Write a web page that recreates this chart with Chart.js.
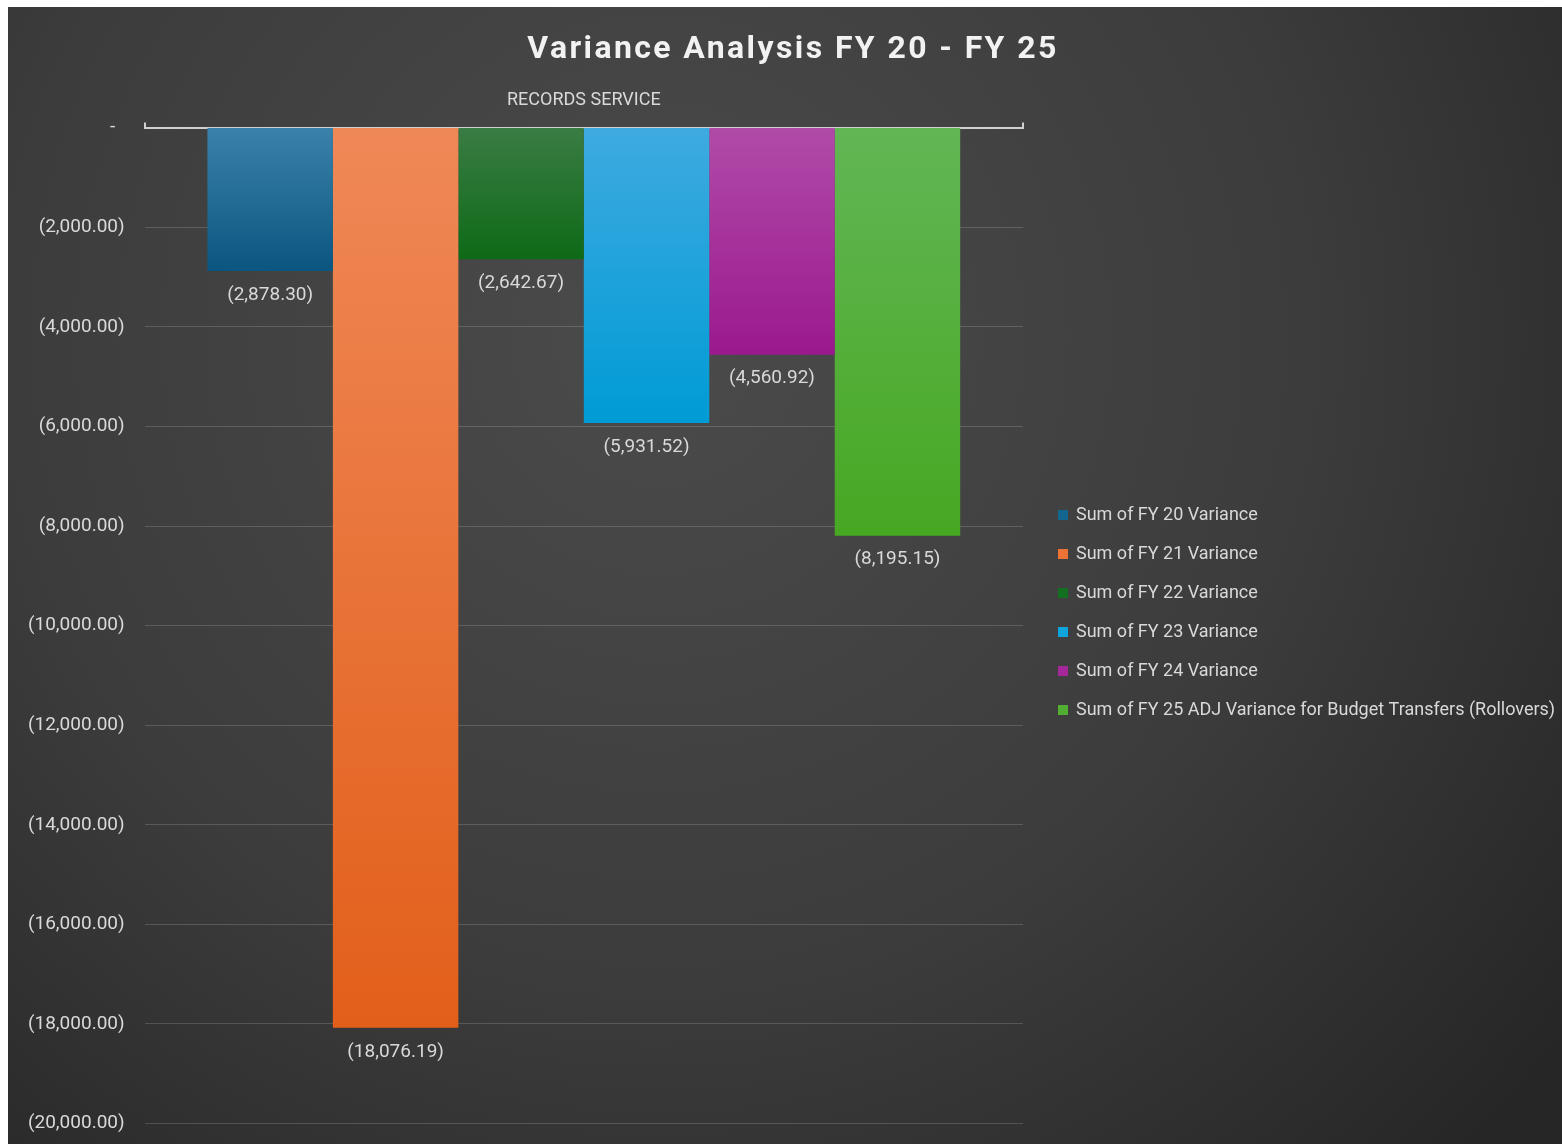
<!DOCTYPE html>
<html>
<head>
<meta charset="utf-8">
<script src="https://cdn.jsdelivr.net/npm/chart.js@4.4.1/dist/chart.umd.min.js"></script>
<style>
  html, body { margin: 0; padding: 0; background: #ffffff; overflow: hidden; }
  #wrap { position: absolute; left: 8px; top: 7px; width: 1554px; height: 1148px; }
</style>
</head>
<body>
<div id="wrap"><canvas id="c"></canvas></div>
<script>
const chartTitle = 'Variance Analysis FY 20 - FY 25';
const categories = ['RECORDS SERVICE'];
const seriesNames = [
  'Sum of FY 20 Variance',
  'Sum of FY 21 Variance',
  'Sum of FY 22 Variance',
  'Sum of FY 23 Variance',
  'Sum of FY 24 Variance',
  'Sum of FY 25 ADJ Variance for Budget Transfers (Rollovers)'
];
const fy20 = [-2878.30];
const fy21 = [-18076.19];
const fy22 = [-2642.67];
const fy23 = [-5931.52];
const fy24 = [-4560.92];
const fy25 = [-8195.15];
const seriesValues = [fy20, fy21, fy22, fy23, fy24, fy25];
const yTickValues = [-20000, -18000, -16000, -14000, -12000, -10000, -8000, -6000, -4000, -2000, 0];

const topColors = ['#3b82ab', '#ef8857', '#3a7c44', '#3eaae0', '#b04ba8', '#62b655'];
const bottomColors = ['#0a5680', '#e25f1a', '#0e6a17', '#009bd5', '#9b198e', '#47a822'];
const legendColors = ['#136690', '#ec7236', '#137020', '#10a3dc', '#a4289a', '#52ae32'];

const fmt = v => {
  if (v === 0) return '-  ';
  const s = Math.abs(v).toLocaleString('en-US', { minimumFractionDigits: 2, maximumFractionDigits: 2 });
  return v < 0 ? '(' + s + ')' : s;
};

function barGradient(i) {
  return function (ctx) {
    const chart = ctx.chart;
    const area = chart.chartArea;
    if (!area) return legendColors[i];
    const y = chart.scales.y;
    const y0 = y.getPixelForValue(0);
    const y1 = y.getPixelForValue(seriesValues[i][0]);
    const g = chart.ctx.createLinearGradient(0, y0, 0, Math.max(y1, y0 + 1));
    g.addColorStop(0, topColors[i]);
    g.addColorStop(1, bottomColors[i]);
    return g;
  };
}

const bgPlugin = {
  id: 'bg',
  beforeDraw(chart) {
    const { ctx, width, height } = chart;
    ctx.save();
    const g = ctx.createRadialGradient(650, 330, 40, 650, 330, 1150);
    g.addColorStop(0, '#4a4a4a');
    g.addColorStop(0.55, '#3c3c3c');
    g.addColorStop(1, '#262626');
    ctx.fillStyle = g;
    ctx.fillRect(0, 0, width, height);
    ctx.restore();
  }
};

const titlePlugin = {
  id: 'spacedTitle',
  afterDraw(chart) {
    const { ctx } = chart;
    ctx.save();
    ctx.font = 'bold 32px Roboto';
    if ('letterSpacing' in ctx) ctx.letterSpacing = '2.4px';
    ctx.fillStyle = '#f2f2f2';
    ctx.textAlign = 'center';
    ctx.textBaseline = 'middle';
    ctx.fillText(chartTitle, 785, 43);
    ctx.restore();
  }
};

const legendPlugin = {
  id: 'sideLegend',
  afterDraw(chart) {
    const { ctx } = chart;
    ctx.save();
    ctx.font = '18px Roboto';
    ctx.textAlign = 'left';
    ctx.textBaseline = 'middle';
    const x0 = 1050;
    const y0 = 508;
    seriesNames.forEach((name, i) => {
      const y = y0 + i * 39;
      ctx.fillStyle = legendColors[i];
      ctx.fillRect(x0, y - 5, 10, 10);
      ctx.fillStyle = '#d9d9d9';
      ctx.fillText(name, x0 + 18, y);
    });
    ctx.restore();
  }
};

const labelPlugin = {
  id: 'barLabels',
  afterDatasetsDraw(chart) {
    const { ctx } = chart;
    ctx.save();
    ctx.font = '19px Roboto';
    ctx.fillStyle = '#d9d9d9';
    ctx.textAlign = 'center';
    ctx.textBaseline = 'middle';
    chart.data.datasets.forEach((ds, i) => {
      const meta = chart.getDatasetMeta(i);
      meta.data.forEach((el, j) => {
        ctx.fillText(fmt(ds.data[j]), el.x, el.y + 24);
      });
    });
    ctx.restore();
  }
};

new Chart(document.getElementById('c'), {
  type: 'bar',
  data: {
    labels: categories,
    datasets: seriesNames.map((name, i) => ({
      label: name,
      data: seriesValues[i],
      backgroundColor: barGradient(i),
      borderWidth: 0,
      barPercentage: 1.0,
      categoryPercentage: 0.857
    }))
  },
  options: {
    responsive: true,
    maintainAspectRatio: false,
    animation: false,
    layout: { padding: { left: 0, right: 539, top: 72, bottom: 0 } },
    plugins: {
      title: { display: false },
      legend: { display: false },
      tooltip: { enabled: false }
    },
    scales: {
      x: {
        position: 'top',
        grid: { display: true, drawOnChartArea: false, drawTicks: true, tickLength: 5, color: '#d0d0d0', lineWidth: 2, offset: true },
        border: { display: true, color: '#d0d0d0', width: 2 },
        ticks: { color: '#d9d9d9', font: { family: 'Roboto', size: 18 }, padding: 11 }
      },
      y: {
        min: -20000,
        max: 0,
        afterBuildTicks(scale) { scale.ticks = yTickValues.map(v => ({ value: v })); },
        grid: { color: 'rgba(255,255,255,0.16)', lineWidth: 1, drawTicks: false },
        border: { display: false },
        ticks: { color: '#d9d9d9', font: { family: 'Roboto', size: 19 }, padding: 20, callback: v => fmt(v) }
      }
    }
  },
  plugins: [bgPlugin, labelPlugin, titlePlugin, legendPlugin]
});
</script>
</body>
</html>
